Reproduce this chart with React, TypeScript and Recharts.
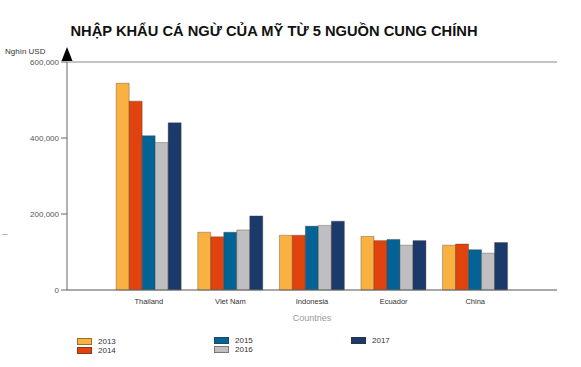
import React from 'react';
import {
  BarChart,
  Bar,
  XAxis,
  YAxis,
  CartesianGrid,
  ReferenceLine,
} from 'recharts';

const countries = ['Thailand', 'Viet Nam', 'Indonesia', 'Ecuador', 'China'];
const years = ['2013', '2014', '2015', '2016', '2017'];
const colors = ['#F9B241', '#E0430E', '#046396', '#BFBFC1', '#1B3A6B'];

const v2013 = [544000, 152000, 144000, 141000, 118000];
const v2014 = [497000, 140000, 144000, 130000, 121000];
const v2015 = [406000, 152000, 168000, 133000, 106000];
const v2016 = [388000, 158000, 170000, 118000, 97000];
const v2017 = [440000, 195000, 181000, 130000, 125000];

const yTicks = [0, 200000, 400000, 600000];

const seriesValues = [v2013, v2014, v2015, v2016, v2017];

const data = countries.map((name, i) => {
  const row: Record<string, string | number> = { name };
  years.forEach((y, k) => {
    row[y] = seriesValues[k][i];
  });
  return row;
});

const font = 'Arial, "Liberation Sans", sans-serif';

// legend laid out in three columns, two rows
const legendPos = [
  { left: 77, top: 337 },
  { left: 77, top: 346 },
  { left: 214, top: 336 },
  { left: 214, top: 345 },
  { left: 351, top: 336 },
];

const formatTick = (v: number) => v.toLocaleString('en-US');

export default function App() {
  return (
    <div
      style={{
        position: 'absolute',
        left: 0,
        top: 0,
        width: 581,
        height: 367,
        background: '#fff',
        fontFamily: font,
      }}
    >
      <div
        style={{
          position: 'absolute',
          left: 0,
          width: 548,
          top: 23,
          textAlign: 'center',
          fontSize: 14.7,
          fontWeight: 'bold',
          color: '#111',
          whiteSpace: 'nowrap',
        }}
      >
        NHẬP KHẨU CÁ NGỪ CỦA MỸ TỪ 5 NGUỒN CUNG CHÍNH
      </div>
      <div
        style={{
          position: 'absolute',
          left: 5,
          top: 47,
          fontSize: 8,
          color: '#333',
        }}
      >
        Nghìn USD
      </div>
      <div
        style={{
          position: 'absolute',
          left: 2,
          top: 234,
          width: 6,
          height: 1,
          background: '#bbb',
        }}
      />
      <BarChart
        width={581}
        height={367}
        data={data}
        margin={{ top: 62, right: 24, bottom: 57, left: 7 }}
        barCategoryGap="10%"
        barGap={0}
      >
        <CartesianGrid vertical={false} stroke="#dcdcdc" />
        <XAxis
          dataKey="name"
          padding={{ left: 41, right: 41 }}
          axisLine={{ stroke: '#666' }}
          tickLine={false}
          tick={{ fontSize: 7.5, fill: '#333', fontFamily: font }}
          tickMargin={3}
          height={20}
        />
        <YAxis
          yAxisId="left"
          width={60}
          domain={[0, 600000]}
          ticks={yTicks}
          tickFormatter={formatTick}
          axisLine={{ stroke: '#666' }}
          tickLine={{ stroke: '#666' }}
          tickSize={6}
          tickMargin={2}
          tick={{ fontSize: 8, fill: '#555', fontFamily: font }}
          interval={0}
        />
        <YAxis
          yAxisId="right"
          orientation="right"
          width={0}
          domain={[0, 600000]}
          tick={false}
          tickLine={false}
          axisLine={{ stroke: '#999' }}
        />
        <ReferenceLine yAxisId="left" y={600000} stroke="#999" />
        {years.map((y, k) => (
          <Bar
            key={y}
            yAxisId="left"
            dataKey={y}
            fill={colors[k]}
            stroke="#4a3a2a"
            strokeOpacity={0.45}
            strokeWidth={0.8}
            isAnimationActive={false}
          />
        ))}
      </BarChart>
      <svg
        style={{ position: 'absolute', left: 0, top: 0, pointerEvents: 'none' }}
        width={581}
        height={367}
      >
        <polygon points="61.5,61 72.5,61 67,47" fill="#000" />
      </svg>
      <div
        style={{
          position: 'absolute',
          left: 0,
          width: 624,
          top: 313,
          textAlign: 'center',
          fontSize: 9,
          color: '#999',
        }}
      >
        Countries
      </div>
      {years.map((y, k) => (
        <div
          key={y}
          style={{
            position: 'absolute',
            left: legendPos[k].left,
            top: legendPos[k].top,
            display: 'flex',
            alignItems: 'center',
            fontSize: 8,
            color: '#333',
            height: 8,
          }}
        >
          <span
            style={{
              display: 'inline-block',
              width: 13,
              height: 5,
              background: colors[k],
              border: '0.5px solid rgba(60,45,30,0.5)',
              marginRight: 6,
            }}
          />
          {y}
        </div>
      ))}
    </div>
  );
}
